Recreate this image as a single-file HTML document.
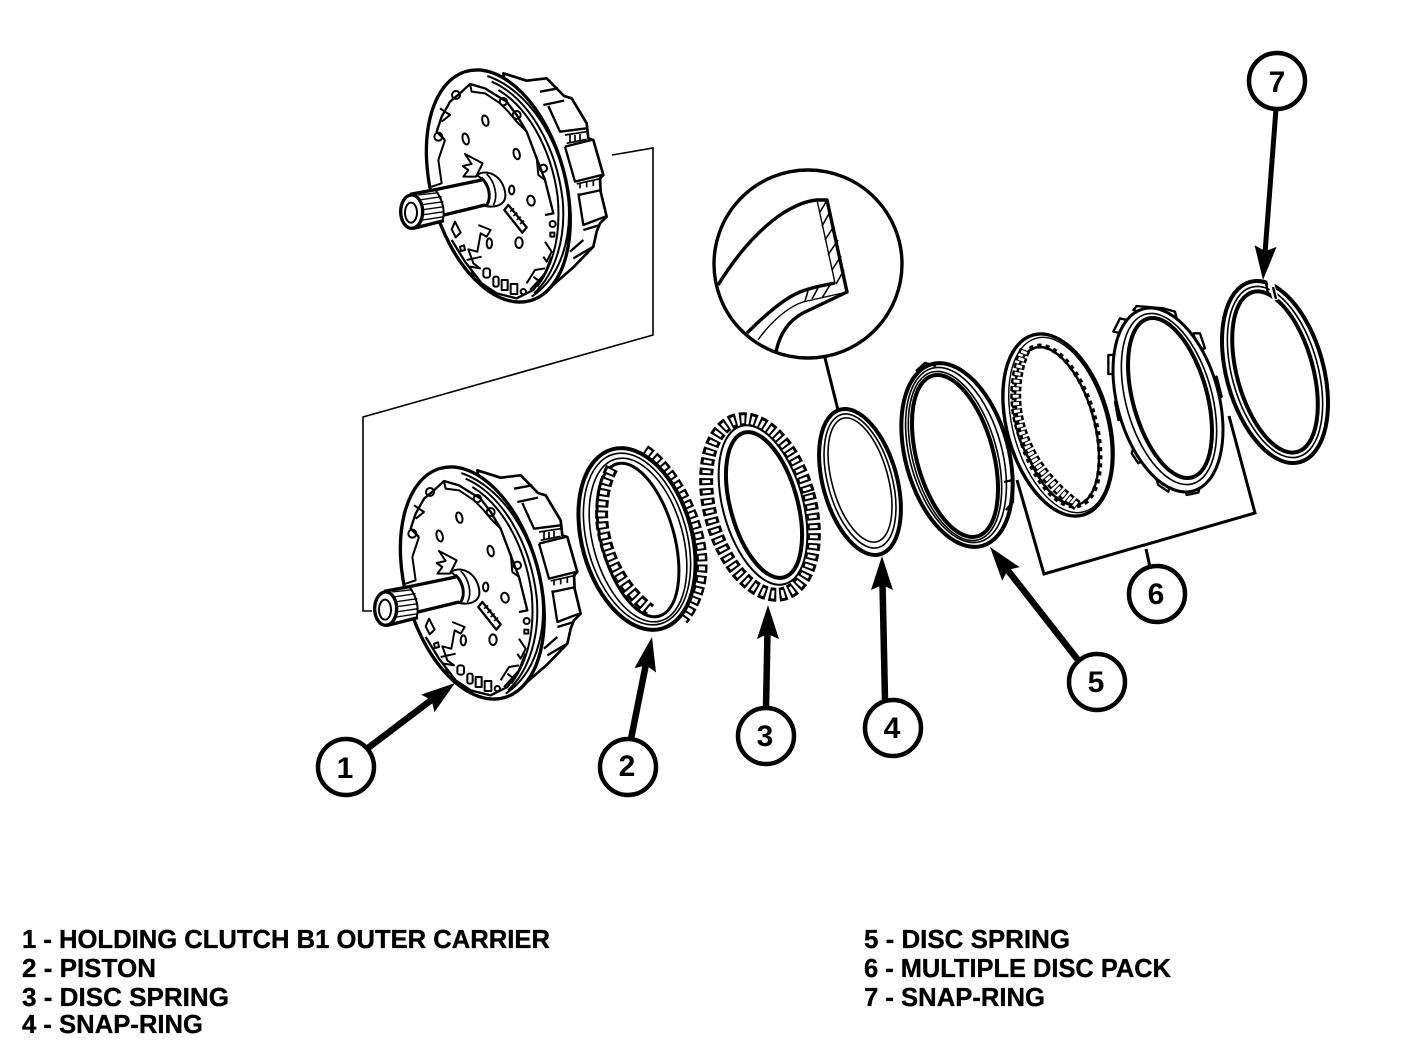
<!DOCTYPE html>
<html><head><meta charset="utf-8"><style>
html,body{margin:0;padding:0;background:#fff;width:1408px;height:1050px;overflow:hidden}
svg{display:block}
text{font-family:"Liberation Sans",sans-serif;font-weight:bold;fill:#000}
</style></head><body>
<svg width="1408" height="1050" viewBox="0 0 1408 1050" xmlns="http://www.w3.org/2000/svg">
<defs>
<g id="carrier" fill="none" stroke="#000" stroke-width="6" stroke-linejoin="round">
  <!-- drum silhouette with tabs -->
  <path d="M400,40 L470,62 L530,55 L582,108 L605,115 L650,190 L655,235 L670,240 L700,345 L690,355 L692,395 L710,470 L690,490 L680,515 L670,560 L610,622 L520,700 Z" fill="#fff" stroke-width="8"/>
  <path d="M510,95 L565,85 M520,135 L582,122 M535,138 L570,215 L650,205 M585,260 L665,240 M585,260 L615,365 L695,345 M625,405 L695,390 M625,400 L640,495 L705,470 M640,510 L690,495 M610,595 L670,560 M640,540 L600,575" stroke-width="7"/>
  <path d="M585,225 L650,215 M590,250 L650,238 M600,225 V250 M615,225 V248 M630,222 V245 M620,372 L695,355 M630,368 V385 M650,365 V382 M670,360 V378" stroke-width="5"/>
  <!-- face -->
  <ellipse cx="385" cy="378" rx="201" ry="357" transform="rotate(-15.5 385 378)" fill="#fff" stroke-width="10"/>
  <path d="M352,48 C475,90 575,240 595,420 C605,530 575,650 485,710"/>
  <path d="M365,65 C470,110 558,250 578,420 C588,530 558,640 492,700"/>
  <path d="M385,90 C470,140 543,260 563,410 C573,520 553,610 502,680"/>
  <!-- serrated band -->
  <path d="M225,240 L200,215 L215,170 L240,125 L270,100 L300,72 L345,85 L385,110 L410,125 L440,165 L470,215 L500,295 L525,360 L550,460 L525,465" stroke-width="7"/>
  <path d="M205,300 L225,240 M205,300 L215,370 L185,380 M210,145 L240,165 L215,185 M300,72 L305,95 L345,100 L390,130 L415,155 L440,185 L470,215"/>
  <circle cx="258" cy="105" r="12"/><circle cx="400" cy="125" r="11"/><circle cx="440" cy="165" r="12"/><circle cx="205" cy="230" r="12"/><circle cx="520" cy="325" r="11"/>
  <path d="M500,290 L505,345 L525,360"/>
  <!-- lower band -->
  <path d="M245,540 L285,605 L335,670 L380,700 L440,715 L490,690 L525,640 L545,590" stroke-width="7"/>
  <path d="M525,545 L545,575 L530,605 L520,590 M470,670 L495,630 L525,625 M490,650 L510,665 M480,690 L530,635"/>
  <rect x="340" y="625" width="20" height="28" rx="8"/><rect x="370" y="650" width="16" height="30" rx="6"/><rect x="395" y="660" width="18" height="30"/><rect x="422" y="672" width="20" height="30"/>
  <circle cx="460" cy="695" r="8"/><circle cx="548" cy="492" r="9"/>
  <rect x="541" y="518" width="12" height="12"/>
  <path d="M270,560 l12,-4 l3,14 l-12,3z"/>
  <path d="M325,495 L362,510 L350,530 L332,520 L322,575 L295,568 L310,610 L330,625 L300,620 L315,660 M290,600 L335,590"/>
  <ellipse cx="358" cy="550" rx="8" ry="15"/>
  <path d="M255,485 L272,518 L257,532 L245,508Z"/>
  <!-- upper marks -->
  <path d="M285,282 L338,310 L318,350 L280,350 L295,330 L278,318 L305,312Z"/>
  <!-- holes -->
  <ellipse cx="346" cy="182" rx="9" ry="16" transform="rotate(-15 346 182)"/>
  <ellipse cx="287" cy="237" rx="9" ry="17" transform="rotate(-15 287 237)"/>
  <ellipse cx="440" cy="282" rx="9" ry="16" transform="rotate(-15 440 282)"/>
  <ellipse cx="425" cy="390" rx="8" ry="13"/>
  <ellipse cx="483" cy="422" rx="11" ry="15" transform="rotate(-15 483 422)"/>
  <ellipse cx="447" cy="548" rx="11" ry="16"/>
  <!-- slot -->
  <path d="M415,435 L470,502 L457,518 L403,450Z" stroke-width="7"/>
  <path d="M420,455 L432,445 M430,468 L442,458 M440,480 L452,470 M450,492 L462,482" stroke-width="5"/>
  <!-- shaft -->
  <path d="M120,405 L200,388 L340,358 L345,435 L220,468 L215,482 L130,505Z" fill="#fff" stroke="none"/>
  <path d="M120,403 L200,388 L335,360 M130,505 L222,482 M222,465 L345,435" stroke-width="10"/>
  <path d="M195,388 C220,420 225,455 218,482" stroke-width="6"/>
  <path d="M145,405 L205,398 M148,420 L215,410 M150,435 L220,425 M152,450 L222,440 M155,465 L222,455 M158,480 L222,470" stroke-width="4"/>
  <ellipse cx="125" cy="455" rx="33" ry="50" fill="#fff" stroke-width="10"/>
  <ellipse cx="123" cy="458" rx="18" ry="30" fill="#fff" stroke-width="6"/>
  <!-- hub -->
  <path d="M320,345 C350,325 395,345 405,395 C412,430 385,445 345,438 C365,420 360,370 320,345Z" fill="#fff"/>
  <path d="M335,352 C358,372 368,410 352,436 M350,342 C375,365 385,410 370,436" stroke-width="5"/>
</g>
</defs>

<g transform="translate(370,60) scale(.33333)"><use href="#carrier"/></g>
<g transform="translate(344,457) scale(.33333)"><use href="#carrier"/></g>

<!-- thin connector lines -->
<path d="M612,155 L653,148 V335 L363,417 V611 L372,611" fill="none" stroke="#000" stroke-width="1.6"/>

<!-- Ring 2 piston -->
<path d="M645,450 C675,470 700,520 702,560 C703,585 695,605 683,620" fill="none" stroke="#000" stroke-width="11" stroke-dasharray="8 3"/>
<path d="M645,450 C675,470 700,520 702,560 C703,585 695,605 683,620" fill="none" stroke="#fff" stroke-width="6" stroke-dasharray="4 7" stroke-dashoffset="-2"/>
<ellipse cx="637" cy="539" rx="55" ry="93" transform="rotate(-15.5 637 539)" fill="#fff" stroke="#000" stroke-width="4"/>
<ellipse cx="637" cy="539" rx="50" ry="88" transform="rotate(-15.5 637 539)" fill="none" stroke="#000" stroke-width="1.6"/>
<ellipse cx="638" cy="540" rx="45" ry="84" transform="rotate(-15.5 638 540)" fill="none" stroke="#000" stroke-width="1.6"/>
<ellipse cx="638" cy="540" rx="36.4" ry="79" transform="rotate(-15.5 638 540)" fill="#fff" stroke="#000" stroke-width="3"/>
<path d="M612,468 C600,490 600,520 604,535 C610,565 625,590 650,610" fill="none" stroke="#000" stroke-width="13" stroke-dasharray="8 3"/>
<path d="M612,468 C600,490 600,520 604,535 C610,565 625,590 650,610" fill="none" stroke="#fff" stroke-width="7" stroke-dasharray="4 7" stroke-dashoffset="-2"/>

<!-- Ring 3 disc spring -->
<ellipse cx="760" cy="507" rx="50" ry="90" transform="rotate(-15.5 760 507)" fill="none" stroke="#000" stroke-width="14" stroke-dasharray="7 3"/>
<ellipse cx="760" cy="507" rx="50" ry="90" transform="rotate(-15.5 760 507)" fill="none" stroke="#fff" stroke-width="8" stroke-dasharray="3 7" stroke-dashoffset="-2"/>
<ellipse cx="763" cy="505" rx="40" ry="82" transform="rotate(-15.5 763 505)" fill="#fff" stroke="#000" stroke-width="2"/>
<ellipse cx="764" cy="505" rx="33.5" ry="75" transform="rotate(-15.5 764 505)" fill="#fff" stroke="#000" stroke-width="4"/>

<!-- Ring 4 snap-ring -->
<ellipse cx="860" cy="482" rx="37" ry="75" transform="rotate(-15.5 860 482)" fill="none" stroke="#000" stroke-width="4"/>
<ellipse cx="860" cy="481" rx="32" ry="69" transform="rotate(-15.5 860 481)" fill="none" stroke="#000" stroke-width="1.6"/>
<ellipse cx="860" cy="480" rx="28" ry="64" transform="rotate(-15.5 860 480)" fill="none" stroke="#000" stroke-width="1.6"/>
<path d="M838,410 L825,358" stroke="#000" stroke-width="3" fill="none"/>

<!-- Detail circle -->
<circle cx="808" cy="264" r="94" fill="#fff" stroke="#000" stroke-width="3.4"/>
<g fill="none" stroke="#000" stroke-linejoin="round">
  <path d="M718,285 C735,258 755,232 783,213 C795,206 805,201 817,200 L827,200 L847,292 L803,313 C790,320 780,332 776,352" stroke-width="3.4"/>
  <path d="M747,333 C765,315 785,298 800,292 C812,287 825,285 835,283" stroke-width="3.4"/>
  <path d="M817,200 L835,283" stroke-width="1.4"/>
  <path d="M758,340 C772,320 790,306 803,302 L847,292" stroke-width="1.4"/>
  <path d="M820,212 L826,202 M822,226 L830,212 M825,240 L834,226 M828,255 L838,240 M832,270 L841,256 M836,284 L844,270 M805,301 L808,291 M812,299 L818,288 M822,298 L830,285" stroke-width="1.6"/>
</g>

<!-- Ring 5 disc spring -->
<ellipse cx="957" cy="455" rx="51.5" ry="94.3" transform="rotate(-15.5 957 455)" fill="none" stroke="#000" stroke-width="4"/>
<ellipse cx="956" cy="455" rx="46" ry="90" transform="rotate(-15.5 956 455)" fill="none" stroke="#000" stroke-width="1.6"/>
<ellipse cx="955" cy="456" rx="42" ry="87" transform="rotate(-15.5 955 456)" fill="none" stroke="#000" stroke-width="1.6"/>
<ellipse cx="955" cy="456" rx="38.2" ry="83.4" transform="rotate(-15.5 955 456)" fill="none" stroke="#000" stroke-width="4"/>
<path d="M916,371 L925,363 L936,366 M1004,482 L1013,480 L1013,502 L1006,510" fill="none" stroke="#000" stroke-width="2.4"/>

<!-- Ring 6a internal teeth disc -->
<ellipse cx="1058" cy="425" rx="51" ry="93.4" transform="rotate(-15.5 1058 425)" fill="none" stroke="#000" stroke-width="3.4"/>
<ellipse cx="1060" cy="425" rx="47" ry="90" transform="rotate(-15.5 1060 425)" fill="none" stroke="#000" stroke-width="1.4"/>
<ellipse cx="1057" cy="426" rx="37.3" ry="81.3" transform="rotate(-15.5 1057 426)" fill="none" stroke="#000" stroke-width="2.4"/>
<ellipse cx="1057" cy="426" rx="38.3" ry="82.3" transform="rotate(-15.5 1057 426)" fill="none" stroke="#000" stroke-width="5" stroke-dasharray="4 4"/>
<path d="M1025,350 C1005,395 1015,460 1078,506" fill="none" stroke="#000" stroke-width="11" stroke-dasharray="5 2.5"/>
<path d="M1025,350 C1005,395 1015,460 1078,506" fill="none" stroke="#fff" stroke-width="6" stroke-dasharray="3 4.5" stroke-dashoffset="-1"/>

<!-- Ring 6b tabbed disc -->
<g transform="translate(990,270) scale(.33333)" fill="#fff" stroke="#000" stroke-width="7" stroke-linejoin="round">
  <path d="M370,185 L390,145 L410,150 L395,190Z"/>
  <path d="M430,120 L440,108 L520,115 L555,125 L560,145 L530,150Z"/>
  <path d="M610,190 L630,190 L645,235 L625,240Z"/>
  <path d="M355,255 L375,255 L375,312 L355,312Z"/>
  <path d="M660,325 L680,320 L695,380 L680,385Z"/>
  <path d="M375,395 L390,400 L395,450 L385,450Z"/>
  <path d="M430,535 L460,570 L445,580 L425,550Z"/>
  <path d="M500,630 L540,650 L535,665 L505,645Z"/>
  <path d="M585,660 L630,650 L625,668 L590,675Z"/>
  <path d="M685,465 L700,465 L695,525 L680,530Z"/>
</g>
<ellipse cx="1168" cy="400" rx="50.7" ry="94.4" transform="rotate(-15.5 1168 400)" fill="#fff" stroke="#000" stroke-width="3"/>
<ellipse cx="1169" cy="399" rx="43" ry="88" transform="rotate(-15.5 1169 399)" fill="none" stroke="#000" stroke-width="1.6"/>
<ellipse cx="1170" cy="398" rx="37.1" ry="82.4" transform="rotate(-15.5 1170 398)" fill="#fff" stroke="#000" stroke-width="4"/>

<!-- Ring 7 snap-ring -->
<ellipse cx="1275" cy="372" rx="48.5" ry="93.5" transform="rotate(-15.5 1275 372)" fill="none" stroke="#000" stroke-width="4"/>
<ellipse cx="1275" cy="372" rx="43" ry="88" transform="rotate(-15.5 1275 372)" fill="none" stroke="#000" stroke-width="1.6"/>
<ellipse cx="1275" cy="372" rx="38" ry="83" transform="rotate(-15.5 1275 372)" fill="none" stroke="#000" stroke-width="4"/>
<path d="M1270,280 L1276,300" stroke="#fff" stroke-width="6"/>
<path d="M1266,283 L1268,293 M1273,287 L1276,299" stroke="#000" stroke-width="2.4" fill="none"/>

<!-- Bracket 6 -->
<path d="M1017,480 L1044,574 L1255,513 L1229,416" fill="none" stroke="#000" stroke-width="3"/>
<path d="M1146,549 L1150,567" fill="none" stroke="#000" stroke-width="3"/>

<!-- Arrows -->
<g fill="#000" stroke="none">
  <path d="M455,683 L434.4,712.2 L431.8,700.4 L421.2,694.6Z"/>
  <path d="M652,637 L656,672.5 L646.2,665.4 L634.4,668.1Z"/>
  <path d="M768,605 L779,639 L767.5,634 L757,639Z"/>
  <path d="M882,556 L893,590 L882.5,585 L871,590Z"/>
  <path d="M990,547 L1019.6,567.1 L1007.8,569.9 L1002.2,580.7Z"/>
  <path d="M1263,280 L1276.6,246.9 L1265.2,251.1 L1254.6,245.3Z"/>
</g>
<g stroke="#000" stroke-width="6.5" fill="none">
  <path d="M368,748 L434,698"/>
  <path d="M631,739 L646,664"/>
  <path d="M766,708 L767.5,632"/>
  <path d="M885,700 L882.5,583"/>
  <path d="M1078,660 L1006,568"/>
  <path d="M1276,109 L1265,253" stroke-width="5"/>
</g>

<!-- Callouts -->
<g fill="#fff" stroke="#000" stroke-width="4.5">
  <circle cx="346" cy="767" r="28"/>
  <circle cx="628" cy="767" r="28"/>
  <circle cx="766" cy="736" r="28"/>
  <circle cx="893" cy="728" r="28"/>
  <circle cx="1097" cy="682" r="28"/>
  <circle cx="1157" cy="594" r="28"/>
  <circle cx="1277" cy="81" r="28"/>
</g>
<g font-size="30" text-anchor="middle">
  <text x="345" y="778">1</text>
  <text x="627" y="776">2</text>
  <text x="765" y="746">3</text>
  <text x="892" y="738">4</text>
  <text x="1096" y="692">5</text>
  <text x="1156" y="604">6</text>
  <text x="1277" y="92">7</text>
</g>

<!-- Legend -->
<g font-size="26" stroke="#000" stroke-width=".35">
  <text x="22" y="948" textLength="528" lengthAdjust="spacingAndGlyphs">1 - HOLDING CLUTCH B1 OUTER CARRIER</text>
  <text x="22" y="977" textLength="134" lengthAdjust="spacingAndGlyphs">2 - PISTON</text>
  <text x="22" y="1006" textLength="207" lengthAdjust="spacingAndGlyphs">3 - DISC SPRING</text>
  <text x="22" y="1033" textLength="181" lengthAdjust="spacingAndGlyphs">4 - SNAP-RING</text>
  <text x="864" y="948" textLength="206" lengthAdjust="spacingAndGlyphs">5 - DISC SPRING</text>
  <text x="864" y="977" textLength="307" lengthAdjust="spacingAndGlyphs">6 - MULTIPLE DISC PACK</text>
  <text x="864" y="1006" textLength="181" lengthAdjust="spacingAndGlyphs">7 - SNAP-RING</text>
</g>
</svg>
</body></html>
